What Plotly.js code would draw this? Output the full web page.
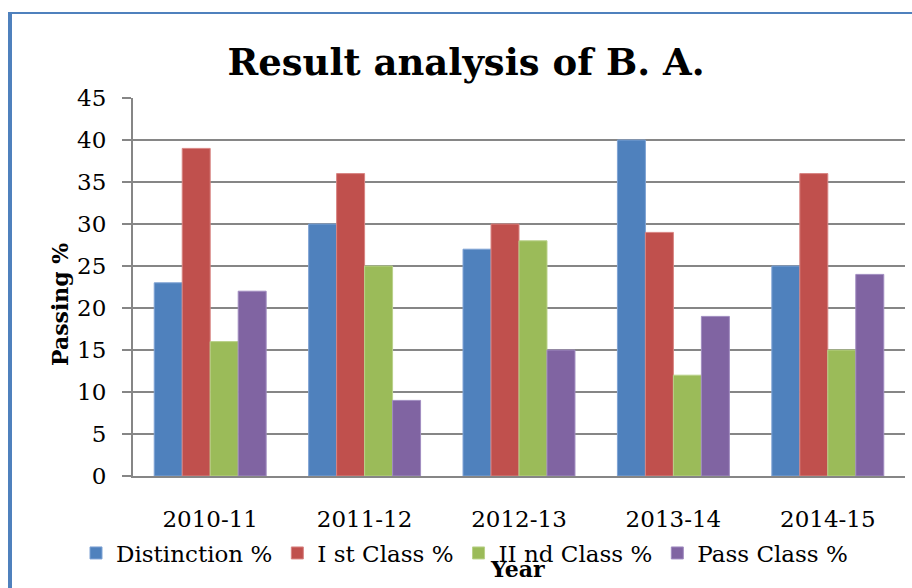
<!DOCTYPE html>
<html>
<head>
<meta charset="utf-8">
<script src="https://cdn.plot.ly/plotly-3.0.1.min.js"></script>
<style>html,body{margin:0;padding:0;background:#fff;}#chart{width:912px;height:588px;}</style>
</head>
<body>
<div id="chart"></div>
<script>
var years = ["2010-11", "2011-12", "2012-13", "2013-14", "2014-15"];
var seriesNames = ["Distinction %", "I st Class %", "II nd Class %", "Pass Class %"];
var distinction = [23, 30, 27, 40, 25];
var firstClass = [39, 36, 30, 29, 36];
var secondClass = [16, 25, 28, 12, 15];
var passClass = [22, 9, 15, 19, 24];
var yTicks = [0, 5, 10, 15, 20, 25, 30, 35, 40, 45];

var colors = ["#4F81BD", "#C0504D", "#9BBB59", "#8064A2"];
var edge = ["#7FA3D4", "#D88482", "#B9D189", "#A08CC0"];
var values = [distinction, firstClass, secondClass, passClass];
var FONT = "DejaVu Serif";

var traces = values.map(function (v, i) {
  return {
    type: "bar",
    x: years,
    y: v,
    name: seriesNames[i],
    marker: {color: colors[i], line: {color: edge[i], width: 1}},
    hoverinfo: "x+y+name"
  };
});

// plot area: l=133, r=905, t=98, b=476
var L = 133, R = 905, T = 98, B = 476;
function px(x) { return (x - L) / (R - L); }
function py(y) { return (B - y) / (B - T); }

var layout = {
  width: 912,
  height: 588,
  paper_bgcolor: "#ffffff",
  plot_bgcolor: "#ffffff",
  margin: {l: L, r: 912 - R, t: T, b: 588 - B, pad: 0},
  barmode: "group",
  bargap: 0.275,
  bargroupgap: 0,
  font: {family: FONT, color: "#000000", size: 22},
  title: {
    text: "<b>Result analysis of B. A.</b>",
    font: {family: FONT, size: 37, color: "#000000"},
    xref: "paper", x: px(466), xanchor: "center",
    yref: "container", y: 1 - 62 / 588, yanchor: "middle"
  },
  xaxis: {
    type: "category",
    showgrid: false,
    showline: true,
    linecolor: "#868686",
    linewidth: 2,
    ticks: "",
    tickfont: {family: FONT, size: 23, color: "#000"},
    ticklabelstandoff: 21,
    zeroline: false,
    fixedrange: true
  },
  yaxis: {
    range: [0, 45],
    tickvals: yTicks,
    ticktext: yTicks.map(String),
    showgrid: true,
    gridcolor: "#868686",
    gridwidth: 2,
    showline: true,
    linecolor: "#868686",
    linewidth: 2,
    ticks: "outside",
    ticklen: 9,
    tickwidth: 2,
    tickcolor: "#868686",
    tickfont: {family: FONT, size: 23, color: "#000"},
    ticklabelstandoff: 11,
    zeroline: false,
    fixedrange: true
  },
  showlegend: true,
  legend: {
    orientation: "h",
    x: px(76), xanchor: "left",
    y: py(553), yanchor: "middle",
    font: {family: FONT, size: 23, color: "#000"},
    bgcolor: "rgba(0,0,0,0)",
    traceorder: "normal",
    itemclick: false
  },
  annotations: [
    {
      text: "<b>Passing %</b>",
      xref: "paper", yref: "paper",
      x: px(60), y: py(305),
      xanchor: "center", yanchor: "middle",
      textangle: -90, showarrow: false,
      font: {family: FONT, size: 22, color: "#000"}
    },
    {
      text: "<b>Year</b>",
      xref: "paper", yref: "paper",
      x: px(517), y: py(569),
      xanchor: "center", yanchor: "middle",
      showarrow: false,
      font: {family: FONT, size: 22, color: "#000"}
    }
  ],
  shapes: [
    {type: "line", xref: "paper", yref: "paper", x0: px(10), x1: px(10), y0: py(12), y1: py(600), line: {color: "#4F81BD", width: 4}},
    {type: "line", xref: "paper", yref: "paper", x0: px(8), x1: px(920), y0: py(13), y1: py(13), line: {color: "#4F81BD", width: 2}}
  ]
};

Plotly.newPlot("chart", traces, layout, {displayModeBar: false, staticPlot: true});
</script>
</body>
</html>
